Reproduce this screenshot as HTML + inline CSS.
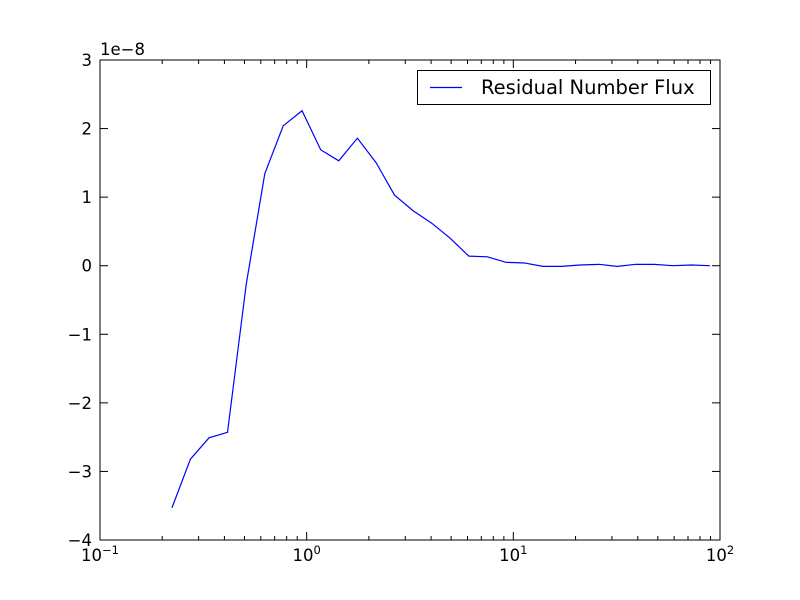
<!DOCTYPE html>
<html><head><meta charset="utf-8"><style>
body{margin:0;background:#fff}
svg{display:block;font-family:"DejaVu Sans","Liberation Sans",sans-serif}
</style></head><body>
<svg id="chart" width="800" height="600" viewBox="0 0 800 600">
<rect width="800" height="600" fill="#fff"/>
<g id="plot"></g>
</svg>
<script>
const xValues=[0.223,0.274,0.337,0.414,0.51,0.627,0.77,0.95,1.17,1.43,1.76,2.17,2.66,3.28,4.03,4.95,6.09,7.49,9.2,11.3,13.9,17.1,21.0,25.9,31.8,39.1,48.1,59.1,72.7,89.4];
const yValues=[-3.53,-2.82,-2.51,-2.43,-0.27,1.34,2.04,2.26,1.69,1.53,1.86,1.50,1.03,0.80,0.62,0.40,0.14,0.13,0.05,0.04,-0.01,-0.01,0.01,0.02,-0.01,0.02,0.02,0.00,0.01,0.00];
const yTicks=[-4,-3,-2,-1,0,1,2,3];
const xTickExps=[-1,0,1,2];
const L=100,R=720,T=60,B=540;
const NS="http://www.w3.org/2000/svg";
const g=document.getElementById('plot');
function sx(v){return L+(Math.log10(v)+1)/3*(R-L);}
function sy(v){return B-(v+4)/7*(B-T);}
function mk(t,a,p){const e=document.createElementNS(NS,t);for(const k in a)e.setAttribute(k,a[k]);(p||g).appendChild(e);return e;}
const pts=xValues.map((x,i)=>sx(x).toFixed(2)+','+sy(yValues[i]).toFixed(2)).join(' ');
const line=mk('polyline',{points:pts,fill:'none',stroke:'#0000ff','stroke-width':1.2});


const fr=mk('rect',{x:L,y:T,width:R-L,height:B-T,fill:'none',stroke:'#000','stroke-width':1});


yTicks.forEach(v=>{const y=sy(v);
mk('line',{x1:L,x2:L+8,y1:y,y2:y,stroke:'#000'});
mk('line',{x1:R,x2:R-8,y1:y,y2:y,stroke:'#000'});
const t=mk('text',{x:L-8,y:y+6,'text-anchor':'end','font-size':16.5});
t.textContent=v<0?'\u2212'+(-v):String(v);


});
xTickExps.forEach(e=>{const x=sx(Math.pow(10,e));
mk('line',{x1:x,x2:x,y1:B,y2:B-8,stroke:'#000'});
mk('line',{x1:x,x2:x,y1:T,y2:T+8,stroke:'#000'});
const t=mk('text',{x:x,y:B+21,'text-anchor':'middle','font-size':16.5});
t.innerHTML='10<tspan dy="-7" font-size="11.5">'+(e<0?'\u2212'+(-e):e)+'</tspan>';


if(e<2){for(let k=2;k<10;k++){const xm=sx(k*Math.pow(10,e));
mk('line',{x1:xm,x2:xm,y1:B,y2:B-4,stroke:'#000'});
mk('line',{x1:xm,x2:xm,y1:T,y2:T+4,stroke:'#000'});}}
});
const off=mk('text',{x:L,y:T-5,'font-size':16.5});off.textContent='1e\u22128';


const lg=mk('g',{});


mk('rect',{x:417.5,y:70.5,width:293,height:34,fill:'#fff',stroke:'#000'},lg);
mk('line',{x1:430,x2:462,y1:87.5,y2:87.5,stroke:'#0000ff','stroke-width':1.2},lg);
const lt=mk('text',{x:481,y:94,'font-size':19.5},lg);lt.textContent='Residual Number Flux';


</script>
</body></html>
